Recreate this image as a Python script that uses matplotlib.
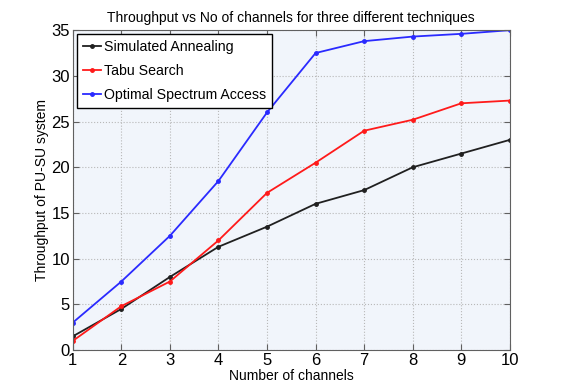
import matplotlib
matplotlib.use("Agg")
import matplotlib.pyplot as plt

channels = [1, 2, 3, 4, 5, 6, 7, 8, 9, 10]
simulated_annealing = [1.5, 4.5, 8.0, 11.3, 13.5, 16.0, 17.5, 20.0, 21.5, 23.0]
tabu_search = [1.0, 4.8, 7.5, 12.0, 17.2, 20.5, 24.0, 25.2, 27.0, 27.3]
optimal_access = [3.0, 7.5, 12.5, 18.5, 26.0, 32.5, 33.8, 34.3, 34.6, 35.0]

plt.rcParams["font.family"] = ["Liberation Sans", "DejaVu Sans"]

fig = plt.figure(figsize=(5.64, 3.92), dpi=100)
ax = fig.add_axes([0.129, 0.107, 0.775, 0.816])
ax.set_facecolor("#f1f5fb")

ax.plot(channels, simulated_annealing, color="#202020", marker=".", ms=5, lw=1.3,
        label="Simulated Annealing")
ax.plot(channels, tabu_search, color="#ff1a1a", marker=".", ms=5, lw=1.3,
        label="Tabu Search")
ax.plot(channels, optimal_access, color="#2a2aff", marker=".", ms=5, lw=1.3,
        label="Optimal Spectrum Access")

ax.set_xlim(1, 10)
ax.set_ylim(0, 35)
ax.set_xticks(channels)
ax.set_yticks([0, 5, 10, 15, 20, 25, 30, 35])
ax.grid(True, color="#b8b8b8", linestyle=":", lw=0.8)
ax.tick_params(direction="in", length=4, labelsize=12, pad=2,
               top=True, right=True, color="#606060")
for s in ax.spines.values():
    s.set_color("#606060")

ax.set_title("Throughput vs No of channels for three different techniques",
             fontsize=10, pad=6)
ax.set_xlabel("Number of channels", fontsize=10, labelpad=1)
ax.set_ylabel("Throughput of PU-SU system", fontsize=10, labelpad=2)

leg = ax.legend(loc="upper left", fontsize=10.2, handlelength=1.3,
                handletextpad=0.2, borderpad=0.4, labelspacing=0.7,
                borderaxespad=0.3, fancybox=False, framealpha=1)
leg.get_frame().set_edgecolor("black")

fig.savefig("out.png", dpi=100)
